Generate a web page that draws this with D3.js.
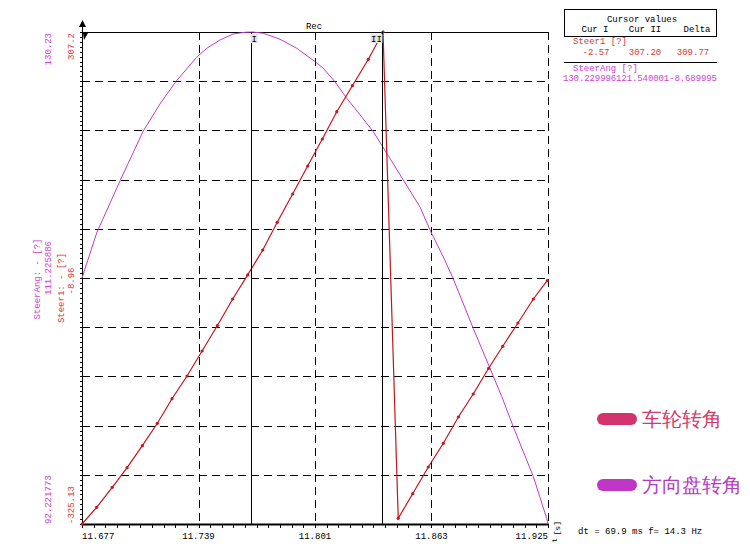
<!DOCTYPE html>
<html><head><meta charset="utf-8">
<script src="https://cdn.jsdelivr.net/npm/d3@7"></script>
<style>body{margin:0;background:#fff}svg{display:block}text{font-family:"Liberation Mono",monospace}</style>
</head><body><svg id="c" width="750" height="555"></svg>
<script>
// ---- data ----
const xTicks = [11.677, 11.739, 11.801, 11.863, 11.925];
const steer1Range = [-325.13, 307.2];
const steerAngRange = [92.221773, 130.23];
const steer1Mid = "-8.96";
const steerAngMid = "111.225886";
const steer1T = [11.6770,11.6848,11.6931,11.7010,11.7091,11.7171,11.7249,11.7329,11.7409,11.7490,11.7572,11.7652,11.7732,11.7809,11.7891,11.7971,11.8049,11.8126,11.8209,11.8294,11.8372,11.8453,11.8530,11.8613,11.8693,11.8773,11.8852,11.8934,11.9009,11.9090,11.9172,11.9246];
const steer1V = [-325.13,-303.67,-277.96,-252.77,-224.50,-195.71,-164.09,-134.92,-102.79,-70.27,-35.95,-5.0,27.02,62.62,98.99,134.98,169.68,204.77,238.18,272.11,307.2,-317.8,-286.19,-251.87,-221.41,-187.61,-158.05,-125.02,-96.74,-66.80,-35.95,-12.43];
const steerAngT = [11.6770,11.6848,11.6972,11.7096,11.7185,11.7269,11.7380,11.7434,11.7504,11.7575,11.7638,11.7680,11.7735,11.7824,11.7913,11.8010,11.8054,11.8116,11.8179,11.8250,11.8320,11.8392,11.8480,11.8569,11.8627,11.8693,11.8746,11.8852,11.8938,11.9004,11.9065,11.9172,11.9243,11.9250];
const steerAngV = [111.226,114.70,118.72,122.58,124.67,126.39,128.28,128.97,129.61,130.08,130.21,130.23,130.13,129.67,128.97,127.94,127.43,126.39,125.11,123.82,122.53,120.86,118.80,116.71,114.78,112.85,111.15,107.34,104.37,102.06,99.74,95.88,92.66,92.22];
const cursorT = [11.7670, 11.8369];
const cursorLabels = ["I", "II"];
const cursorHeader = ["Cur I", "Cur II", "Delta"];
const steer1Cursor = ["-2.57", "307.20", "309.77"];
const steerAngCursor = "130.229996121.540001-8.689995";
const legendNames = ["车轮转角", "方向盘转角"];

// ---- layout ----
const L = 82, R = 548, T = 32, B = 524;
const RED = "#c4161c", REDT = "#d43a3a", MAG = "#c03cc8", MAGT = "#cc44cc";
const svg = d3.select("#c");
const x = d3.scaleLinear().domain([xTicks[0], xTicks[xTicks.length-1]]).range([L, R]);
const yR = d3.scaleLinear().domain(steer1Range).range([B, T]);
const yM = d3.scaleLinear().domain(steerAngRange).range([B, T]);

// grid
const gridV = d3.range(11).map(i => steer1Range[0] + i*(steer1Range[1]-steer1Range[0])/10);
const g = svg.append("g");
g.selectAll("line.h").data(gridV.slice(1,10)).join("line")
  .attr("x1", L).attr("x2", R).attr("y1", d => Math.round(yR(d))+0.5).attr("y2", d => Math.round(yR(d))+0.5)
  .attr("stroke", "#000").attr("stroke-dasharray", "8,5");
g.selectAll("line.v").data(xTicks.slice(1)).join("line")
  .attr("x1", d => Math.round(x(d))+0.5).attr("x2", d => Math.round(x(d))+0.5).attr("y1", T).attr("y2", B)
  .attr("stroke", "#000").attr("stroke-dasharray", "8,5");

// top line
svg.append("line").attr("x1", L).attr("x2", R).attr("y1", T+0.5).attr("y2", T+0.5).attr("stroke", "#000");
// bottom axis
svg.append("line").attr("x1", L).attr("x2", R+1).attr("y1", B+0.5).attr("y2", B+0.5).attr("stroke", "#000").attr("stroke-width", 2);
const minorX = d3.range(0, 41).map(i => xTicks[0] + i*(xTicks[4]-xTicks[0])/40);
svg.selectAll("line.mx").data(minorX).join("line")
  .attr("x1", d => Math.round(x(d))+0.5).attr("x2", d => Math.round(x(d))+0.5)
  .attr("y1", B+1).attr("y2", B+4).attr("stroke", "#000");
svg.selectAll("text.xt").data(xTicks).join("text")
  .attr("x", d => x(d)).attr("y", B+15)
  .attr("text-anchor", (d,i) => i===0 ? "start" : (i===xTicks.length-1 ? "end" : "middle"))
  .attr("font-size", 9).attr("fill", "#000").text(d => d.toFixed(3));

// left axis
svg.append("line").attr("x1", L+0.5).attr("x2", L+0.5).attr("y1", 22).attr("y2", B).attr("stroke", "#000");
const minorY = d3.range(0, 101).map(i => steer1Range[0] + i*(steer1Range[1]-steer1Range[0])/100);
svg.selectAll("line.my").data(minorY).join("line")
  .attr("x1", L-2).attr("x2", L).attr("y1", d => Math.round(yR(d))+0.5).attr("y2", d => Math.round(yR(d))+0.5)
  .attr("stroke", "#000");
svg.append("path").attr("d", `M${L+0.5},20 L${L-3},27 L${L+4},27 Z`).attr("fill", "#000");
svg.append("path").attr("d", `M${L+1},33 L${L+6},33 L${L+2},40 Z`).attr("fill", "#000");

// left rotated labels
function vtext(xp, yp, anchor, color, s) {
  svg.append("text").attr("transform", `translate(${xp},${yp}) rotate(-90)`)
    .attr("text-anchor", anchor).attr("font-size", 9).attr("fill", color).text(s);
}
vtext(51, T+1, "end", MAGT, steerAngRange[1].toFixed(2));
vtext(74, T+1, "end", REDT, String(steer1Range[1]));
vtext(51, B, "start", MAGT, String(steerAngRange[0]));
vtext(74, B, "start", REDT, String(steer1Range[0]));
vtext(40, 279, "middle", MAGT, "SteerAng: - [?]");
vtext(51, 268, "middle", MAGT, steerAngMid);
vtext(64, 288, "middle", REDT, "Steer1: - [?]");
vtext(74, 281, "middle", REDT, steer1Mid);

// title
svg.append("text").attr("x", 314).attr("y", 29).attr("text-anchor", "middle").attr("font-size", 9).text("Rec");

// series
const magLine = d3.line().x((d,i) => x(steerAngT[i])).y((d,i) => yM(steerAngV[i]));
svg.append("path").attr("d", magLine(steerAngV)).attr("fill", "none").attr("stroke", MAG).attr("stroke-width", 1);
const redLine = d3.line().x((d,i) => x(steer1T[i])).y((d,i) => yR(steer1V[i]));
svg.append("path").attr("d", redLine(steer1V)).attr("fill", "none").attr("stroke", RED).attr("stroke-width", 1.2);
svg.selectAll("circle.m").data(steer1V).join("circle")
  .attr("cx", (d,i) => x(steer1T[i])).attr("cy", d => yR(d)).attr("r", 1.6).attr("fill", RED);

// cursors
svg.selectAll("line.cur").data(cursorT).join("line")
  .attr("x1", d => Math.round(x(d))+0.5).attr("x2", d => Math.round(x(d))+0.5).attr("y1", T).attr("y2", B)
  .attr("stroke", "#000");
cursorT.forEach((t, i) => {
  const cx = i === 0 ? x(t) + 3 : x(t) - 6;
  const w = i === 0 ? 7 : 12;
  svg.append("rect").attr("x", cx - w/2).attr("y", 34).attr("width", w).attr("height", 9).attr("fill", "#e4e4e4");
  svg.append("text").attr("x", cx).attr("y", 42).attr("text-anchor", "middle").attr("font-size", 9).text(cursorLabels[i]);
});

// cursor values box
svg.append("rect").attr("x", 564.5).attr("y", 9.5).attr("width", 152).attr("height", 27).attr("fill", "none").attr("stroke", "#000");
svg.append("text").attr("x", 642).attr("y", 22).attr("text-anchor", "middle").attr("font-size", 9).text("Cursor values");
[595, 645, 697].forEach((cx, i) => svg.append("text").attr("x", cx).attr("y", 32).attr("text-anchor", "middle").attr("font-size", 9).text(cursorHeader[i]));
svg.append("text").attr("x", 573).attr("y", 44).attr("font-size", 9).attr("fill", REDT).text("Steer1 [?]");
[596, 645, 693].forEach((cx, i) => svg.append("text").attr("x", cx).attr("y", 55).attr("text-anchor", "middle").attr("font-size", 9).attr("fill", REDT).text(steer1Cursor[i]));
svg.append("line").attr("x1", 564).attr("x2", 717).attr("y1", 62.5).attr("y2", 62.5).attr("stroke", "#000");
svg.append("text").attr("x", 573).attr("y", 71).attr("font-size", 9).attr("fill", MAGT).text("SteerAng [?]");
svg.append("text").attr("x", 563).attr("y", 81).attr("font-size", 9).attr("fill", MAGT).attr("textLength", 154).text(steerAngCursor);

// dt text
svg.append("text").attr("x", 578).attr("y", 534).attr("font-size", 9).text("dt = 69.9 ms  f= 14.3 Hz");
svg.append("text").attr("transform", `translate(${R+8},${B-3}) rotate(90)`).attr("font-size", 8).text("[s]");
svg.append("text").attr("x", R+4).attr("y", B+18).attr("font-size", 8).text("↵");

// legend
const legColors = ["#d2336c", "#c036c6"];
const legText = ["#cf3b6b", "#b53cc0"];
[419, 485].forEach((cy, i) => {
  svg.append("rect").attr("x", 597).attr("y", cy-6).attr("width", 40).attr("height", 12).attr("rx", 6).attr("fill", legColors[i]);
  svg.append("text").attr("x", 642).attr("y", cy+7).attr("font-size", 19.5)
    .attr("font-family", "'Noto Sans CJK SC'").attr("fill", legText[i]).text(legendNames[i]);
});
</script></body></html>
